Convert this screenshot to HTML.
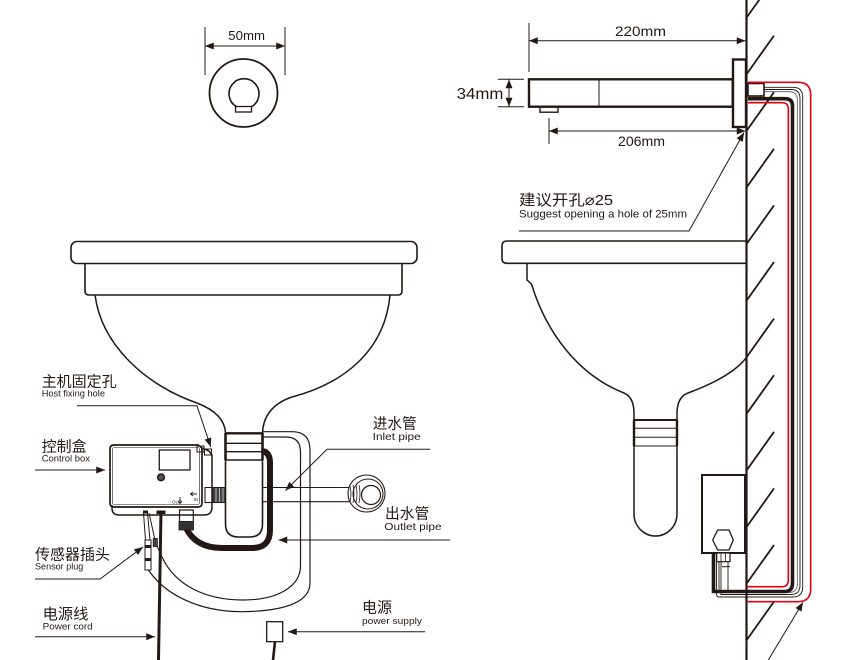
<!DOCTYPE html>
<html><head><meta charset="utf-8">
<style>
html,body{margin:0;padding:0;background:#fff;}
svg{display:block;}
text{font-family:"Liberation Sans","Noto Sans CJK SC",sans-serif;fill:#231815;}
</style></head><body>
<svg width="851" height="660" viewBox="0 0 851 660" xmlns="http://www.w3.org/2000/svg">
<defs>
<marker id="a" viewBox="0 0 10 8" refX="10" refY="4" markerWidth="9" markerHeight="7" markerUnits="userSpaceOnUse" orient="auto-start-reverse"><path d="M0,0 L10,4 L0,8 z" fill="#231815"/></marker>
</defs>
<rect width="851" height="660" fill="#fff"/>

<g fill="none" stroke="#231815" stroke-linecap="butt">
<!-- ===== top-left 50mm ===== -->
<line x1="205" y1="27" x2="205" y2="75" stroke-width="1"/>
<line x1="285" y1="27" x2="285" y2="75" stroke-width="1"/>
<line x1="205" y1="46" x2="285" y2="46" stroke-width="1" marker-start="url(#a)" marker-end="url(#a)"/>
<circle cx="243.5" cy="93" r="34" stroke-width="1.8"/>
<path d="M237,107 A15,15 0 1 1 251,107" stroke-width="1.6"/>
<rect x="235.5" y="106.5" width="16" height="5.5" stroke-width="1.3"/>

<!-- ===== wall ===== -->
<line x1="746.5" y1="0" x2="746.5" y2="660" stroke-width="2.2"/>
<g stroke-width="1.8">
<line x1="747" y1="17" x2="774" y2="-21"/>
<line x1="747" y1="73.6" x2="774" y2="35.6"/>
<line x1="747" y1="130.2" x2="774" y2="92.2"/>
<line x1="747" y1="186.8" x2="774" y2="148.8"/>
<line x1="747" y1="243.4" x2="774" y2="205.4"/>
<line x1="747" y1="300" x2="774" y2="262"/>
<line x1="747" y1="356.6" x2="774" y2="318.6"/>
<line x1="747" y1="413.2" x2="774" y2="375.2"/>
<line x1="747" y1="469.8" x2="774" y2="431.8"/>
<line x1="747" y1="526.4" x2="774" y2="488.4"/>
<line x1="747" y1="583" x2="774" y2="545"/>
<line x1="747" y1="639.6" x2="774" y2="601.6"/>
</g>

<!-- ===== spout ===== -->
<rect x="529" y="79.3" width="203.7" height="27.4" stroke-width="2.4"/>
<line x1="599" y1="80" x2="599" y2="106" stroke-width="1"/>
<rect x="540" y="106.7" width="18" height="5.5" stroke-width="1.4"/>
<rect x="733" y="59.5" width="13" height="67.5" stroke-width="2.4"/>
<rect x="748" y="83.5" width="16" height="12.5" stroke-width="1.6"/>
<!-- dims -->
<line x1="529" y1="23" x2="529" y2="72" stroke-width="1"/>
<line x1="529" y1="40.7" x2="745.5" y2="40.7" stroke-width="1" marker-start="url(#a)" marker-end="url(#a)"/>
<line x1="498" y1="79.3" x2="524" y2="79.3" stroke-width="1"/>
<line x1="498" y1="106.7" x2="524" y2="106.7" stroke-width="1"/>
<line x1="509" y1="79.5" x2="509" y2="106.5" stroke-width="1" marker-start="url(#a)" marker-end="url(#a)"/>
<line x1="549" y1="118" x2="549" y2="144" stroke-width="1"/>
<line x1="549" y1="131" x2="745.5" y2="131" stroke-width="1" marker-start="url(#a)" marker-end="url(#a)"/>
<!-- hole leader -->
<path d="M519,231 H689 L744,132.5" stroke-width="1" marker-end="url(#a)"/>

<!-- ===== right side pipes ===== -->
<path d="M748,82.3 H798 Q810.7,82.3 810.7,95 V589 Q810.7,601.7 798,601.7 H747" stroke="#e60012" stroke-width="1.6"/>
<path d="M764,87.3 H793 Q802.7,87.3 802.7,97 V587 Q802.7,597 793,597 H719 Q716.5,597 716.5,594 V553" stroke-width="0.9"/>
<path d="M764,89.5 H791 Q800,89.5 800,98.5 V585 Q800,594.5 791,594.5 H721 V562" stroke-width="0.9"/>
<path d="M764,91.7 H789 Q797.3,91.7 797.3,100 V584 Q797.3,592.5 789,592.5" stroke-width="0.8" stroke="#555"/>
<path d="M748,98.7 H785 Q792.5,98.7 792.5,106 V583 Q792.5,591.5 785,591.5 H713.5 V553" stroke-width="3.6"/>
<path d="M748,102.7 H782 Q788.3,102.7 788.3,109 V580 Q788.3,586.7 782,586.7 H747" stroke="#e60012" stroke-width="1.6"/>
<!-- valve -->
<rect x="702" y="475" width="43" height="78" stroke-width="2"/>
<polygon points="717.7,530 729,530 733.3,540 729,550 717.7,550 712.7,540" stroke-width="1.3" fill="#fff"/>
<rect x="716.7" y="553" width="13.3" height="8.7" stroke-width="1.2" fill="#fff"/>
<line x1="721" y1="553" x2="721" y2="561.7" stroke-width="0.8"/>
<line x1="725.5" y1="553" x2="725.5" y2="561.7" stroke-width="0.8"/>
<line x1="719" y1="561.7" x2="719" y2="590" stroke-width="0.9"/>
<line x1="728" y1="561.7" x2="728" y2="590" stroke-width="0.9"/>
<line x1="722" y1="566.7" x2="730" y2="566.7" stroke-width="1"/>
<!-- bottom leader -->
<line x1="768.3" y1="660" x2="803" y2="602.3" stroke-width="1" marker-end="url(#a)"/>

<!-- ===== right basin ===== -->
<path d="M746,241 H507 Q502,241 502,246 V258.5 Q502,263.3 507,263.3 H746" stroke-width="1.6"/>
<path d="M527,263.3 V280 L531.5,284 C546,332 578,375 624,393 Q633.5,397 634,412 V514 A21.5,22 0 0 0 677,514 V412 Q677.5,397 688,393 C715,383 736,371 746,358" stroke-width="1.5"/>
<line x1="634" y1="420" x2="677" y2="420" stroke-width="2"/>
<line x1="634" y1="428.3" x2="677" y2="428.3" stroke-width="1"/>
<line x1="634" y1="437.3" x2="677" y2="437.3" stroke-width="1"/>
<line x1="634" y1="446" x2="677" y2="446" stroke-width="1"/>
<line x1="634" y1="420" x2="634" y2="446" stroke-width="2.4"/>
<line x1="677" y1="420" x2="677" y2="446" stroke-width="2.4"/>

<!-- ===== left basin ===== -->
<rect x="71" y="241.5" width="346" height="22" rx="6" stroke-width="1.6"/>
<path d="M85,263.5 V291 Q85,295 89,295 H398 Q402,295 402,291 V263.5" stroke-width="1.6"/>
<path d="M95,295 C102,348 150,387 197,403 C215,410 225,420 225.5,433" stroke-width="1.5"/>
<path d="M390,295 C385,350 345,383 292,397 C271,404 263,418 262.5,433" stroke-width="1.5"/>
<!-- loops -->
<path d="M263,431.7 H292 Q310,431.7 310,450 V583 C310,600 290,611 243,611.7 C200,612 165,595 148.5,570" stroke-width="1.2"/>
<path d="M263,437 H286 Q300.5,437 300.5,452 V566 C300.5,585 280,600 243,600 C205,600 175,585 162,557" stroke-width="1.2"/>
<!-- inlet pipe -->
<line x1="262.5" y1="487.5" x2="350" y2="487.5" stroke-width="1.1"/>
<line x1="262.5" y1="501.7" x2="350" y2="501.7" stroke-width="1.1"/>
<rect x="205" y="487.5" width="20.5" height="15" stroke-width="1.1" fill="#fff"/>
<rect x="213" y="487.5" width="12.5" height="15" fill="#444" stroke-width="0.8"/>
<line x1="216" y1="488" x2="216" y2="502" stroke="#fff" stroke-width="0.6"/>
<line x1="219.5" y1="488" x2="219.5" y2="502" stroke="#fff" stroke-width="0.6"/>
<line x1="223" y1="488" x2="223" y2="502" stroke="#fff" stroke-width="0.6"/>
<!-- tube -->
<path d="M225.5,433 V524 Q225.5,537 238.5,537 H249.5 Q262.5,537 262.5,524 V433" stroke-width="1.6" fill="#fff"/>
<line x1="225.5" y1="433.3" x2="262.5" y2="433.3" stroke-width="2.4"/>
<line x1="225.5" y1="443.3" x2="262.5" y2="443.3" stroke-width="1.4"/>
<line x1="225.5" y1="451.7" x2="262.5" y2="451.7" stroke-width="1.4"/>
<line x1="225.5" y1="460" x2="262.5" y2="460" stroke-width="1.4"/>
<line x1="225.5" y1="433" x2="225.5" y2="460" stroke-width="2.6"/>
<line x1="262.5" y1="433" x2="262.5" y2="460" stroke-width="2.6"/>
<!-- valve circle -->
<circle cx="366.5" cy="493.5" r="18.5" stroke-width="1.1" fill="#fff"/>
<circle cx="368" cy="494" r="15" stroke-width="1"/>
<circle cx="371" cy="495" r="9.5" stroke-width="1.2"/>
<path d="M350,486 Q352,494 350,502 M353,485 Q355,494 353,503 M356,485 Q358,494 356,503 M359,485 Q361,494 359,503" stroke-width="0.8"/>
<!-- outlet hose -->
<path d="M262,451 Q270,452 270,463 V530 Q270,548 252,548 H222 Q196,548 186,528" stroke-width="6"/>
<rect x="179.5" y="510" width="13.8" height="11.7" stroke-width="1.2" fill="#fff"/>
<rect x="179" y="521.5" width="14.5" height="8.5" fill="#333" stroke-width="0.8"/>

<!-- control box -->
<path d="M110,449 Q110,445 114,445 H198 L202,448 V503 Q202,507 198,507 H114 Q110,507 110,503 Z" stroke-width="1.7" fill="#fff"/>
<rect x="112.5" y="447.5" width="87" height="57" rx="2" stroke-width="0.6"/>
<path d="M202,448 L209,451 L212,455 V507 Q212,515 204,515 H119 Q112,515 112,508 V505" stroke-width="1.5"/>
<rect x="197" y="446" width="7" height="6" stroke-width="1"/>
<rect x="204.5" y="449" width="7" height="6" stroke-width="1"/>
<rect x="159.3" y="450" width="30.7" height="20" stroke-width="1.3"/>
<circle cx="161" cy="477.3" r="3.3" fill="#555" stroke-width="1.6"/>
<path d="M180,497 V503 M178,501 L180,503.5 L182,501" stroke-width="0.9"/>
<path d="M197,494 H191 M193,492 L190.5,494 L193,496" stroke-width="0.9"/>
<rect x="143" y="510.5" width="5" height="3" fill="#231815" stroke="none"/>
<rect x="156.5" y="510.5" width="9" height="3.5" fill="#231815" stroke="none"/>
<!-- wires -->
<line x1="143.5" y1="513" x2="145.5" y2="540" stroke-width="1"/>
<line x1="147.5" y1="513" x2="150" y2="540" stroke-width="1"/>
<path d="M149,513 L155,540 M157,546 L162,557" stroke-width="1"/>
<rect x="153.3" y="538.5" width="4" height="8" stroke-width="0.9" fill="#444"/>
<rect x="145" y="540" width="6" height="30" stroke-width="1" fill="#fff"/>
<rect x="145" y="545" width="6" height="3" fill="#231815" stroke="none"/>
<rect x="145" y="558" width="6" height="3" fill="#231815" stroke="none"/>
<line x1="161" y1="511" x2="158.5" y2="660" stroke-width="3"/>
<!-- power supply -->
<rect x="266.7" y="621.7" width="16" height="20" stroke-width="1.3"/>
<line x1="275" y1="641.7" x2="273" y2="660" stroke-width="2.6"/>

<!-- leaders -->
<path d="M77,405.7 H197 L210.7,446.8" stroke-width="1" marker-end="url(#a)"/>
<line x1="35" y1="470" x2="105" y2="470" stroke-width="1" marker-end="url(#a)"/>
<path d="M35,579 H100 L143,547" stroke-width="1" marker-end="url(#a)"/>
<line x1="35" y1="636.7" x2="155" y2="636.7" stroke-width="1" marker-end="url(#a)"/>
<path d="M430,449.3 H327 L285.5,490.5" stroke-width="1" marker-end="url(#a)"/>
<line x1="450" y1="540" x2="278.5" y2="540" stroke-width="1" marker-end="url(#a)"/>
<line x1="425" y1="631.7" x2="288" y2="631.7" stroke-width="1" marker-end="url(#a)"/>
</g>

<!-- ===== text ===== -->
<text x="228.3" y="40" font-size="13" textLength="36.7" lengthAdjust="spacingAndGlyphs">50mm</text>
<text x="615" y="36" font-size="14" textLength="51" lengthAdjust="spacingAndGlyphs">220mm</text>
<text x="456.7" y="99" font-size="16" textLength="46.7" lengthAdjust="spacingAndGlyphs">34mm</text>
<text x="618" y="146" font-size="14" textLength="47" lengthAdjust="spacingAndGlyphs">206mm</text>
<text x="519" y="205" font-size="15" textLength="94" lengthAdjust="spacingAndGlyphs">建议开孔⌀25</text>
<text x="519" y="217.3" font-size="11" textLength="168" lengthAdjust="spacingAndGlyphs">Suggest opening a hole of 25mm</text>

<text x="41.7" y="386.5" font-size="15" textLength="75" lengthAdjust="spacingAndGlyphs">主机固定孔</text>
<text x="41.7" y="396.7" font-size="9.5" textLength="63.3" lengthAdjust="spacingAndGlyphs">Host fixing hole</text>
<text x="41.7" y="451.5" font-size="15" textLength="45" lengthAdjust="spacingAndGlyphs">控制盒</text>
<text x="41.7" y="461.7" font-size="9.5" textLength="48.3" lengthAdjust="spacingAndGlyphs">Control box</text>
<text x="35" y="559.3" font-size="15" textLength="75" lengthAdjust="spacingAndGlyphs">传感器插头</text>
<text x="35" y="569.5" font-size="9.5" textLength="48.3" lengthAdjust="spacingAndGlyphs">Sensor plug</text>
<text x="42.7" y="619" font-size="15" textLength="45.7" lengthAdjust="spacingAndGlyphs">电源线</text>
<text x="42.7" y="629.3" font-size="9.5" textLength="50" lengthAdjust="spacingAndGlyphs">Power cord</text>

<text x="372.7" y="428.3" font-size="15" textLength="44" lengthAdjust="spacingAndGlyphs">进水管</text>
<text x="372.7" y="440" font-size="10.5" textLength="48" lengthAdjust="spacingAndGlyphs">Inlet pipe</text>
<text x="385" y="518.3" font-size="15" textLength="44.3" lengthAdjust="spacingAndGlyphs">出水管</text>
<text x="384.3" y="530" font-size="10.5" textLength="57.3" lengthAdjust="spacingAndGlyphs">Outlet pipe</text>
<text x="362" y="612.5" font-size="15" textLength="30" lengthAdjust="spacingAndGlyphs">电源</text>
<text x="362" y="624" font-size="9.5" textLength="60" lengthAdjust="spacingAndGlyphs">power supply</text>

<text x="172" y="503.5" font-size="4.5">OUT</text>
<text x="193.5" y="501" font-size="4.5">IN</text>
</svg>
</body></html>
